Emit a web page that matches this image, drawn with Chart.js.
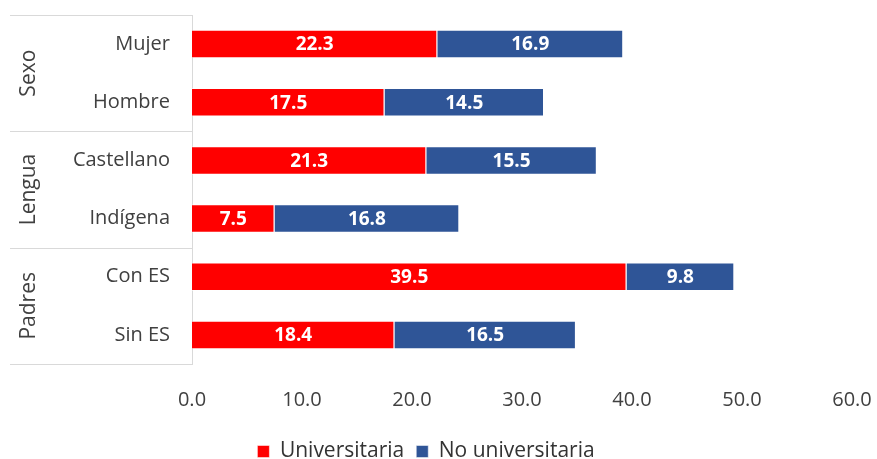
<!DOCTYPE html>
<html>
<head>
<meta charset="utf-8">
<script src="https://cdn.jsdelivr.net/npm/chart.js@4"></script>
<style>
  html, body { margin: 0; padding: 0; background: #fff; }
  #wrap { width: 877px; height: 459px; }
</style>
</head>
<body>
<div id="wrap"><canvas id="grafico"></canvas></div>
<script>
const categorias = ['Mujer', 'Hombre', 'Castellano', 'Indígena', 'Con ES', 'Sin ES'];
const grupos = ['Sexo', 'Lengua', 'Padres'];
const universitaria = [22.3, 17.5, 21.3, 7.5, 39.5, 18.4];
const noUniversitaria = [16.9, 14.5, 15.5, 16.8, 9.8, 16.5];
const ticksX = [0, 10, 20, 30, 40, 50, 60];

const fuente = "'Open Sans', sans-serif";
const gris = '#d9d9d9';

// etiquetas blancas dentro de cada tramo
const etiquetas = {
    id: 'etiquetas',
    afterDatasetsDraw(chart) {
        const ctx = chart.ctx;
        ctx.save();
        ctx.fillStyle = '#fff';
        ctx.font = 'bold 19px ' + fuente;
        ctx.textAlign = 'center';
        ctx.textBaseline = 'middle';
        chart.data.datasets.forEach((ds, i) => {
            chart.getDatasetMeta(i).data.forEach((bar, j) => {
                ctx.fillText(ds.data[j].toFixed(1), (bar.x + bar.base) / 2, bar.y + 1);
            });
        });
        ctx.restore();
    }
};

// grupos a la izquierda con sus separadores
const gruposEje = {
    id: 'gruposEje',
    afterDraw(chart) {
        const ctx = chart.ctx;
        const area = chart.chartArea;
        const paso = (area.bottom - area.top) / categorias.length;
        ctx.save();
        ctx.strokeStyle = gris;
        ctx.lineWidth = 1;
        for (let g = 0; g <= grupos.length; g++) {
            let yy = Math.round(area.top + g * paso * 2) + 0.5;
            ctx.beginPath();
            ctx.moveTo(10, yy);
            ctx.lineTo(area.left, yy);
            ctx.stroke();
        }
        ctx.fillStyle = '#404040';
        ctx.font = '21px ' + fuente;
        ctx.textAlign = 'center';
        ctx.textBaseline = 'middle';
        grupos.forEach((g, i) => {
            let yy = area.top + (i * 2 + 1) * paso;
            ctx.save();
            ctx.translate(29, yy);
            ctx.rotate(-Math.PI / 2);
            ctx.fillText(g, 0, 0);
            ctx.restore();
        });
        ctx.restore();
    }
};

new Chart(document.getElementById('grafico'), {
    type: 'bar',
    data: {
        labels: categorias,
        datasets: [{
            label: 'Universitaria',
            data: universitaria,
            backgroundColor: '#ff0000',
            borderColor: 'rgba(255,255,255,0.5)',
            borderWidth: 1,
            barPercentage: 0.49,
            categoryPercentage: 1
        }, {
            label: 'No universitaria',
            data: noUniversitaria,
            backgroundColor: '#2f5597',
            borderColor: 'rgba(255,255,255,0.5)',
            borderWidth: 1,
            barPercentage: 0.49,
            categoryPercentage: 1
        }]
    },
    options: {
        indexAxis: 'y',
        responsive: true,
        maintainAspectRatio: false,
        animation: false,
        layout: { padding: { top: 15, right: 25, left: 0, bottom: -13 } },
        scales: {
            x: {
                stacked: true,
                min: 0,
                max: 60,
                afterBuildTicks: scale => { scale.ticks = ticksX.map(v => ({ value: v })); },
                afterFit: scale => {
                    scale.height = 65;
                    scale.paddingLeft = 0;
                    scale.paddingRight = 0;
                },
                grid: { display: false },
                border: { display: false },
                ticks: {
                    padding: 16,
                    color: '#404040',
                    font: { family: fuente, size: 20 },
                    callback: value => value.toFixed(1)
                }
            },
            y: {
                stacked: true,
                afterFit: scale => {
                    scale.width = 192;
                    scale.paddingTop = 0;
                    scale.paddingBottom = 0;
                },
                grid: { display: false },
                border: { display: true, color: gris },
                ticks: {
                    padding: 14,
                    color: '#404040',
                    font: { family: fuente, size: 20 }
                }
            }
        },
        plugins: {
            legend: {
                position: 'bottom',
                labels: {
                    boxWidth: 12,
                    boxHeight: 12,
                    padding: 12,
                    color: '#333',
                    font: { family: fuente, size: 21 }
                }
            },
            tooltip: { enabled: false }
        }
    },
    plugins: [etiquetas, gruposEje]
});
</script>
</body>
</html>
